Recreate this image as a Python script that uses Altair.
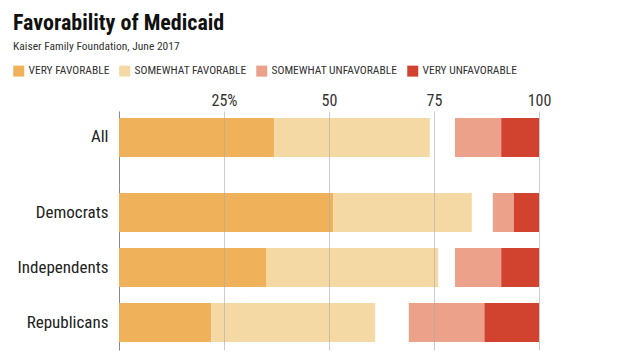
import altair as alt
import pandas as pd

groups = ["All", "Democrats", "Independents", "Republicans"]
very_fav = [37, 51, 35, 22]
somewhat_fav = [37, 33, 41, 39]
somewhat_unfav = [11, 5, 11, 18]
very_unfav = [9, 6, 9, 13]
categories = ["VERY FAVORABLE", "SOMEWHAT FAVORABLE", "SOMEWHAT UNFAVORABLE", "VERY UNFAVORABLE"]
colors = ["#EFB25B", "#F5D9A4", "#ECA18B", "#D1432F"]
x_ticks = [25, 50, 75, 100]

rows = []
for g, vf, sf, su, vu in zip(groups, very_fav, somewhat_fav, somewhat_unfav, very_unfav):
    rows.append(dict(group=g, cat=categories[0], start=0, end=vf))
    rows.append(dict(group=g, cat=categories[1], start=vf, end=vf + sf))
    rows.append(dict(group=g, cat=categories[2], start=100 - vu - su, end=100 - vu))
    rows.append(dict(group=g, cat=categories[3], start=100 - vu, end=100))
df = pd.DataFrame(rows)

FONT = "Liberation Sans Narrow, Roboto Condensed, Roboto"

color = alt.Color(
    "cat:N",
    scale=alt.Scale(domain=categories, range=colors),
    legend=alt.Legend(
        title=None, orient="none", direction="horizontal",
        legendX=-106, legendY=-46,
        symbolType="square", symbolSize=121, symbolStrokeWidth=0, symbolOpacity=1,
        labelFont=FONT, labelFontSize=11.5, labelColor="#333",
        labelOffset=4, columnPadding=9,
    ),
)

yaxis = alt.Axis(title=None, ticks=False, domain=True, domainColor="#888",
                 labelFont=FONT, labelFontSize=17, labelColor="#222", labelPadding=11)

xtop = alt.X("start:Q", scale=alt.Scale(domain=[0, 100]),
             axis=alt.Axis(orient="top", values=x_ticks, title=None, ticks=False, domain=False,
                           labelExpr="datum.value == 25 ? '25%' : datum.label",
                           labelFlush=False,
                           labelFont=FONT, labelFontSize=16, labelColor="#333", labelPadding=3,
                           grid=True, gridColor="#aaa", gridOpacity=0.6, zindex=1))
xbot = alt.X("start:Q", scale=alt.Scale(domain=[0, 100]),
             axis=alt.Axis(orient="top", values=x_ticks, title=None, ticks=False, domain=False,
                           labels=False, grid=True, gridColor="#aaa", gridOpacity=0.6, zindex=1))

top = alt.Chart(df[df.group == "All"]).mark_bar().encode(
    x=xtop, x2="end:Q",
    y=alt.Y("group:N", axis=yaxis,
            scale=alt.Scale(paddingInner=0, paddingOuter=0.449, align=0.2)),
    color=color,
).properties(width=420, height=74)

bottom = alt.Chart(df[df.group != "All"]).mark_bar().encode(
    x=xbot, x2="end:Q",
    y=alt.Y("group:N", axis=yaxis, sort=groups[1:],
            scale=alt.Scale(paddingInner=0.29, paddingOuter=0.145)),
    color=color,
).properties(width=420, height=165)

chart = alt.vconcat(top, bottom, spacing=0).properties(
    title=alt.Title("Favorability of Medicaid", subtitle="Kaiser Family Foundation, June 2017",
                    anchor="start", frame="group", dx=-106, offset=12,
                    font=FONT, fontSize=22, fontWeight="bold", color="#111",
                    subtitleFont=FONT, subtitleFontSize=11.5, subtitleColor="#333", subtitlePadding=6),
    padding={"left": 5, "top": 3, "right": 5, "bottom": 5},
).configure_view(stroke=None).resolve_scale(y="independent")

chart.save("out.html", embed_options={"renderer": "svg", "actions": False})
